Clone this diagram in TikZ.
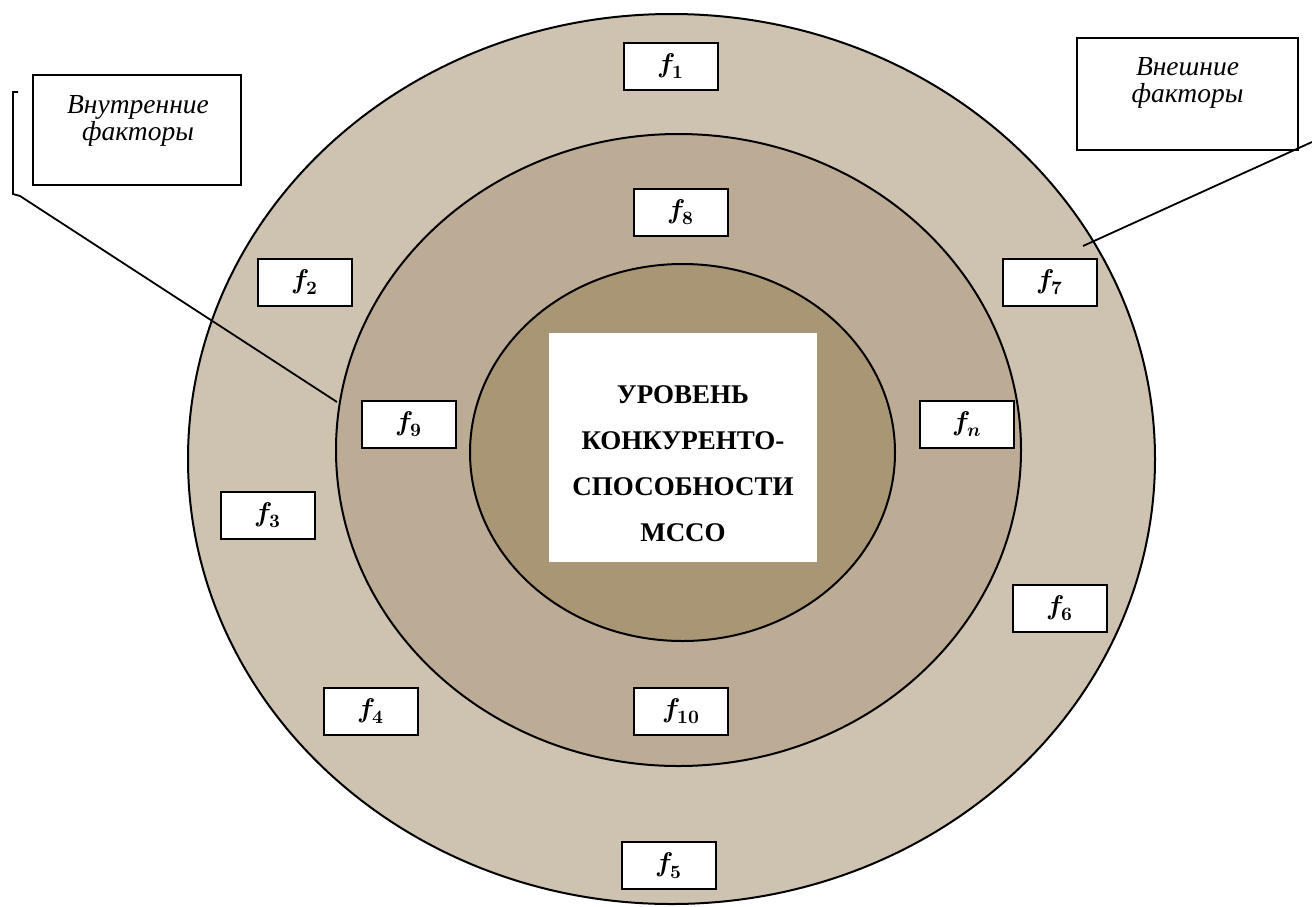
\documentclass[tikz,border=0pt]{standalone}
\usepackage{fontspec}
\usepackage{unicode-math}
\setmainfont{Liberation Serif}
\setmathfont{Latin Modern Math}
\definecolor{ringout}{RGB}{206,195,177}
\definecolor{ringmid}{RGB}{188,172,150}
\definecolor{ringin}{RGB}{169,150,117}
\newcommand{\fac}[1]{$\symbfit{f}_{\symbf{#1}}$}
\tikzset{
  ring/.style={draw=black, line width=2pt},
  fbox/.style={draw=black, fill=white, line width=2pt, minimum width=94pt, minimum height=47pt, inner sep=0pt, font=\fontsize{27}{29}\selectfont},
  lblbox/.style={draw=black, fill=white, line width=1.8pt, inner sep=0pt},
  lbltext/.style={font=\itshape\fontsize{27.5}{28}\selectfont, inner sep=0pt},
  corebox/.style={fill=white, inner sep=0pt, minimum width=268pt, minimum height=229pt},
  coretext/.style={font=\bfseries\fontsize{27}{46}\selectfont, align=center, inner sep=0pt},
  callout/.style={draw=black, line width=1.8pt}
}
\begin{document}
\begin{tikzpicture}[x=1pt,y=-1pt]
\useasboundingbox (0,0) rectangle (1312,906);

% three nested rings of factors
\draw[ring, fill=ringout] (671.5,459) ellipse [x radius=483.5pt, y radius=445pt];
\draw[ring, fill=ringmid] (678.5,450) ellipse [x radius=342.5pt, y radius=316pt];
\draw[ring, fill=ringin]  (682.5,452.5) ellipse [x radius=212.5pt, y radius=188.5pt];

% core
\node[corebox] (core) at (683,447) {};
\node[coretext] (coret) at (683,464) {УРОВЕНЬ\\КОНКУРЕНТО-\\СПОСОБНОСТИ\\МССО};

% factor boxes
\node[fbox] (f1)  at (671,66)  {\fac{1}};
\node[fbox] (f8)  at (681,212) {\fac{8}};
\node[fbox] (f2)  at (305,282) {\fac{2}};
\node[fbox] (f7)  at (1050,282) {\fac{7}};
\node[fbox] (f9)  at (409,424) {\fac{9}};
\node[fbox] (fn)  at (967,424) {$\symbfit{f}_{\symbfit{n}}$};
\node[fbox] (f3)  at (268,515) {\fac{3}};
\node[fbox] (f6)  at (1060,608) {\fac{6}};
\node[fbox] (f4)  at (371,711) {\fac{4}};
\node[fbox] (f10) at (681,711) {\fac{10}};
\node[fbox] (f5)  at (668.5,865.5) {\fac{5}};

% legend boxes
\node[lblbox, minimum width=208pt, minimum height=110pt] (inbox) at (137,130) {};
\node[lbltext, anchor=base] (in1) at (138,113) {Внутренние};
\node[lbltext, anchor=base] (in2) at (138,140) {факторы};

\node[lblbox, minimum width=221pt, minimum height=112pt] (exbox) at (1187.5,94) {};
\node[lbltext, anchor=base] (ex1) at (1187.5,75) {Внешние};
\node[lbltext, anchor=base] (ex2) at (1187.5,102) {факторы};

% callout leaders
\coordinate (brtop) at (18,92);
\coordinate (brbot) at (13,194);
\coordinate (midhit) at (337,402);
\draw[callout] (brtop) -- (13,92) -- (brbot) -- (20,196) -- (midhit);

\coordinate (outhit) at (1083,246);
\coordinate (edge) at (1312,142);
\draw[callout] (outhit) -- (edge);
\end{tikzpicture}
\end{document}
